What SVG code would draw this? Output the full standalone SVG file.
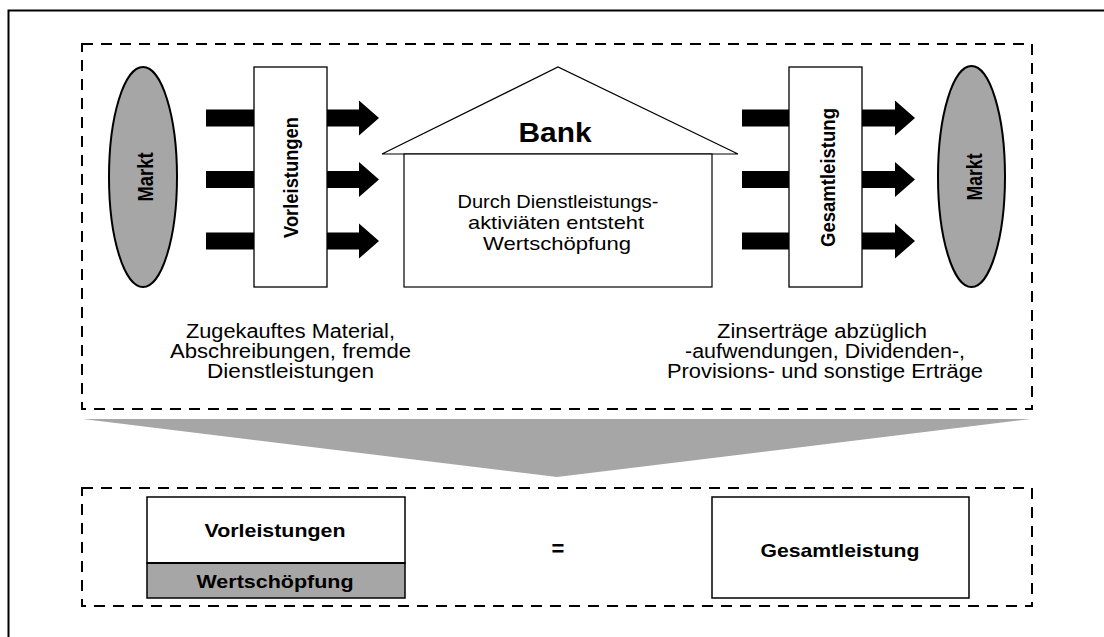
<svg xmlns="http://www.w3.org/2000/svg" width="1104" height="637" viewBox="0 0 1104 637">
<defs>
<style>
.dash{fill:none;stroke:#000;stroke-width:2;stroke-dasharray:11 8}
.gray{fill:#a6a6a6}
.box{fill:#fff;stroke:#000;stroke-width:1.3}
.ell{fill:#a6a6a6;stroke:#000;stroke-width:2}
.arrow{fill:#000}
.t{font-family:"Liberation Sans",Arial,sans-serif;fill:#000;text-anchor:middle}
.b{font-weight:bold}
</style>
<path id="arr" d="M0,-8.5 H153 V-17.5 L173,0 L153,17.5 V8.5 H0 Z"/>
</defs>
<rect x="0" y="0" width="1104" height="637" fill="#fff"/>
<rect id="frame" x="8.5" y="10.5" width="1110" height="640" fill="none" stroke="#000" stroke-width="2"/>

<g id="top-region">
<rect class="dash" x="82" y="44" width="950" height="365"/>
</g>

<g id="connectors">
<use href="#arr" class="arrow" x="206" y="118"/>
<use href="#arr" class="arrow" x="206" y="179.5"/>
<use href="#arr" class="arrow" x="206" y="241"/>
<use href="#arr" class="arrow" x="742" y="118"/>
<use href="#arr" class="arrow" x="742" y="179.5"/>
<use href="#arr" class="arrow" x="742" y="241"/>
<polygon class="gray" points="83,419 1031,419 557,477"/>
</g>

<g id="markt-left">
<ellipse class="ell" cx="143" cy="177" rx="34" ry="110"/>
<text class="t b" font-size="22" textLength="49" lengthAdjust="spacingAndGlyphs" transform="translate(152.5,177) rotate(-90)">Markt</text>
</g>

<g id="vorleistungen">
<rect class="box" x="254" y="67" width="73" height="220"/>
<text class="t b" font-size="21" textLength="121" lengthAdjust="spacingAndGlyphs" transform="translate(298,177.5) rotate(-90)">Vorleistungen</text>
</g>

<g id="bank">
<polygon points="382,154 558,67 738,154" fill="#fff" stroke="#000" stroke-width="1.2"/>
<rect x="404" y="154" width="308" height="133" fill="#fff" stroke="#000" stroke-width="1.2"/>
<text class="t b" x="555" y="142" font-size="28" textLength="73" lengthAdjust="spacingAndGlyphs">Bank</text>
<text class="t" x="558" y="208" font-size="19" textLength="201" lengthAdjust="spacingAndGlyphs">Durch Dienstleistungs-</text>
<text class="t" x="556" y="229" font-size="19" textLength="176" lengthAdjust="spacingAndGlyphs">aktiviäten entsteht</text>
<text class="t" x="557" y="250" font-size="19" textLength="148" lengthAdjust="spacingAndGlyphs">Wertschöpfung</text>
</g>

<g id="gesamtleistung">
<rect class="box" x="789" y="67" width="73" height="220"/>
<text class="t b" font-size="21" textLength="139" lengthAdjust="spacingAndGlyphs" transform="translate(834.5,177.5) rotate(-90)">Gesamtleistung</text>
</g>

<g id="markt-right">
<ellipse class="ell" cx="971.5" cy="176.5" rx="33.5" ry="110.5"/>
<text class="t b" font-size="22" textLength="47" lengthAdjust="spacingAndGlyphs" transform="translate(981.5,177) rotate(-90)">Markt</text>
</g>

<g id="note-left">
<text class="t" x="290.5" y="338" font-size="20" textLength="209" lengthAdjust="spacingAndGlyphs">Zugekauftes Material,</text>
<text class="t" x="290.5" y="358" font-size="20" textLength="241" lengthAdjust="spacingAndGlyphs">Abschreibungen, fremde</text>
<text class="t" x="290.5" y="378" font-size="20" textLength="167" lengthAdjust="spacingAndGlyphs">Dienstleistungen</text>
</g>

<g id="note-right">
<text class="t" x="822" y="338" font-size="20" textLength="210" lengthAdjust="spacingAndGlyphs">Zinserträge abzüglich</text>
<text class="t" x="825" y="358" font-size="20" textLength="280" lengthAdjust="spacingAndGlyphs">-aufwendungen, Dividenden-,</text>
<text class="t" x="825" y="378" font-size="20" textLength="316" lengthAdjust="spacingAndGlyphs">Provisions- und sonstige Erträge</text>
</g>

<g id="bottom-region">
<rect class="dash" x="82" y="488" width="950" height="118"/>
</g>

<g id="summary-left">
<rect x="147" y="497" width="258" height="66" fill="#fff" stroke="#000" stroke-width="1.5"/>
<rect x="147" y="563" width="258" height="35" fill="#a6a6a6" stroke="#000" stroke-width="1.5"/>
<line x1="147" y1="563" x2="405" y2="563" stroke="#000" stroke-width="2"/>
<text class="t b" x="275" y="537" font-size="18" textLength="141" lengthAdjust="spacingAndGlyphs">Vorleistungen</text>
<text class="t b" x="275" y="588" font-size="18" textLength="157" lengthAdjust="spacingAndGlyphs">Wertschöpfung</text>
</g>

<g id="equals">
<text class="t b" x="558" y="556" font-size="22">=</text>
</g>

<g id="summary-right">
<rect x="712" y="497" width="257" height="101" fill="#fff" stroke="#000" stroke-width="1.5"/>
<text class="t b" x="840" y="557" font-size="19" textLength="159" lengthAdjust="spacingAndGlyphs">Gesamtleistung</text>
</g>
</svg>
